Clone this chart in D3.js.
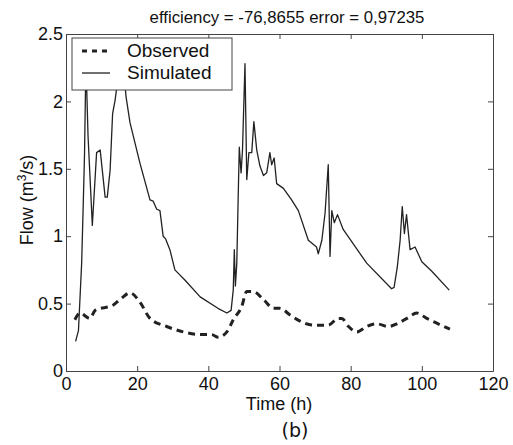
<!DOCTYPE html>
<html>
<head>
<meta charset="utf-8">
<script src="https://cdn.jsdelivr.net/npm/d3@7"></script>
<style>
  body { margin: 0; background: #fff; }
  text { font-family: "Liberation Sans", Arial, sans-serif; fill: #111; }
</style>
</head>
<body>
<script>
var width = 513,
  height = 445;

// simulated flow (m3/s) vs time (h)
const simTime = [2.7, 3.5, 4.4, 4.9, 5.2, 5.6, 6.2, 7.4, 8.6, 9.6, 11.0, 11.6, 12.4, 13.1, 13.8, 14.5, 15.2, 15.7, 16.3, 16.9,
  18.0, 20.8, 23.6, 24.5, 25.5, 26.4, 27.3, 28.0, 29.2, 30.6, 33.4, 37.7, 42.7, 45.2, 46.4, 47.0, 47.3, 47.6, 48.0, 48.4,
  48.7, 49.2, 49.6, 50.3, 50.8, 51.4, 52.2, 52.8, 53.6, 54.5, 55.5, 56.4, 57.3, 57.8, 58.5, 59.2, 61.1, 63.4, 65.3, 68.1,
  70.4, 70.9, 71.9, 72.8, 73.7, 74.2, 74.7, 75.4, 76.3, 77.9, 84.5, 91.5, 92.2, 93.1, 93.9, 94.5, 95.1, 95.7, 96.7, 98.1,
  100.0, 102.8, 107.7];
const simFlow = [0.22, 0.30, 0.80, 1.29, 1.60, 2.30, 1.74, 1.08, 1.62, 1.64, 1.29, 1.29, 1.49, 1.91, 2.01, 2.15, 2.22, 2.12, 2.2, 2.03,
  1.84, 1.54, 1.27, 1.26, 1.20, 1.19, 1.00, 0.98, 0.90, 0.75, 0.675, 0.55, 0.465, 0.43, 0.45, 0.60, 0.90, 0.63, 0.80, 1.30,
  1.66, 1.47, 1.64, 2.28, 1.42, 1.62, 1.62, 1.85, 1.64, 1.52, 1.45, 1.47, 1.62, 1.53, 1.58, 1.39, 1.355, 1.27, 1.19, 0.97,
  0.92, 0.87, 0.97, 1.17, 1.53, 0.85, 1.19, 1.10, 1.16, 1.05, 0.80, 0.61, 0.62, 0.77, 0.97, 1.22, 1.02, 1.16, 0.90, 0.92,
  0.81, 0.74, 0.60];

// observed flow
const obsTime = [2.5, 3.9, 6.7, 8.2, 13.3, 15.6, 18.0, 20.8, 23.6, 28.3, 33.0, 37.7, 40.9, 42.8, 45.2, 47.0, 49.4, 50.8, 52.6, 55.5,
  58.3, 60.1, 63.0, 65.8, 69.5, 73.7, 76.5, 77.5, 79.4, 81.7, 84.5, 87.3, 90.6, 93.0, 95.8, 98.6, 101.4, 104.6, 107.9];
const obsFlow = [0.38, 0.43, 0.39, 0.45, 0.49, 0.54, 0.58, 0.51, 0.39, 0.33, 0.29, 0.27, 0.27, 0.25, 0.29, 0.38, 0.48, 0.59, 0.59, 0.53,
  0.465, 0.465, 0.415, 0.37, 0.34, 0.34, 0.39, 0.39, 0.33, 0.29, 0.33, 0.35, 0.33, 0.35, 0.39, 0.43, 0.39, 0.35, 0.31];

const xTicks = [0, 20, 40, 60, 80, 100, 120];
const yTicks = [0, 0.5, 1, 1.5, 2, 2.5];
const yTickLabels = ["0", "0.5", "1", "1.5", "2", "2.5"];

const title = "efficiency = -76,8655 error = 0,97235";

const margin = { left: 66, right: 20, top: 34, bottom: 74 };

const svg = d3
  .select("body")
  .append("svg")
  .attr("width", width)
  .attr("height", height);

const x = d3.scaleLinear().domain([0, 120]).range([margin.left, width - margin.right]);
const y = d3.scaleLinear().domain([0, 2.5]).range([height - margin.bottom, margin.top]);

// axes with inward ticks, mirrored on top / right
const axisColor = "#444";
function styleAxis(g) {
  g.selectAll("path, line").attr("stroke", axisColor);
  g.selectAll("text").attr("fill", "#111");
}

svg.append("g")
  .attr("transform", `translate(0,${y(0)})`)
  .call(d3.axisBottom(x).tickValues(xTicks).tickSizeInner(-5).tickSizeOuter(0).tickPadding(6))
  .call(styleAxis)
  .selectAll("text").style("font-size", "18px");

svg.append("g")
  .attr("transform", `translate(0,${y(2.5)})`)
  .call(d3.axisTop(x).tickValues(xTicks).tickSizeInner(-5).tickSizeOuter(0).tickFormat(""))
  .call(styleAxis);

svg.append("g")
  .attr("transform", `translate(${x(0)},0)`)
  .call(d3.axisLeft(y).tickValues(yTicks).tickSizeInner(-5).tickSizeOuter(0).tickPadding(3)
    .tickFormat((d, i) => yTickLabels[i]))
  .call(styleAxis)
  .selectAll("text").style("font-size", "18px");

svg.append("g")
  .attr("transform", `translate(${x(120)},0)`)
  .call(d3.axisRight(y).tickValues(yTicks).tickSizeInner(-5).tickSizeOuter(0).tickFormat(""))
  .call(styleAxis);

// lines
const simData = simTime.map((t, i) => [t, simFlow[i]]);
const obsData = obsTime.map((t, i) => [t, obsFlow[i]]);

const line = d3.line().x(d => x(d[0])).y(d => y(d[1])).curve(d3.curveLinear);
const smooth = d3.line().x(d => x(d[0])).y(d => y(d[1])).curve(d3.curveMonotoneX);

svg.append("path")
  .datum(obsData)
  .attr("d", smooth)
  .attr("fill", "none")
  .attr("stroke", "#222")
  .attr("stroke-width", 3)
  .attr("stroke-dasharray", "7,5");

svg.append("path")
  .datum(simData)
  .attr("d", line)
  .attr("fill", "none")
  .attr("stroke", "#222")
  .attr("stroke-width", 1.3)
  .attr("stroke-linejoin", "round");

// legend
const leg = svg.append("g").attr("transform", "translate(72,38)");
leg.append("rect")
  .attr("width", 160).attr("height", 52)
  .attr("fill", "#fff").attr("stroke", axisColor);
leg.append("line")
  .attr("x1", 10).attr("x2", 38).attr("y1", 13).attr("y2", 13)
  .attr("stroke", "#222").attr("stroke-width", 3).attr("stroke-dasharray", "5,5");
leg.append("line")
  .attr("x1", 10).attr("x2", 38).attr("y1", 35).attr("y2", 35)
  .attr("stroke", "#222").attr("stroke-width", 1.3);
leg.append("text").attr("x", 55).attr("y", 19).style("font-size", "19px").text("Observed");
leg.append("text").attr("x", 55).attr("y", 41).style("font-size", "19px").text("Simulated");

// title and labels
svg.append("text")
  .attr("x", 287).attr("y", 23)
  .attr("text-anchor", "middle")
  .style("font-size", "16.8px")
  .text(title);

svg.append("text")
  .attr("x", 279).attr("y", 410)
  .attr("text-anchor", "middle")
  .style("font-size", "18px")
  .text("Time (h)");

const yl = svg.append("text")
  .attr("transform", "translate(33,200) rotate(-90)")
  .attr("text-anchor", "middle")
  .style("font-size", "18px");
yl.append("tspan").text("Flow (m");
yl.append("tspan").attr("dy", -7).style("font-size", "12px").text("3");
yl.append("tspan").attr("dy", 7).text("/s)");

svg.append("text")
  .attr("x", 295).attr("y", 437)
  .attr("text-anchor", "middle")
  .style("font-size", "19px")
  .style("font-family", "'DejaVu Sans', sans-serif")
  .text("(b)");
</script>
</body>
</html>
